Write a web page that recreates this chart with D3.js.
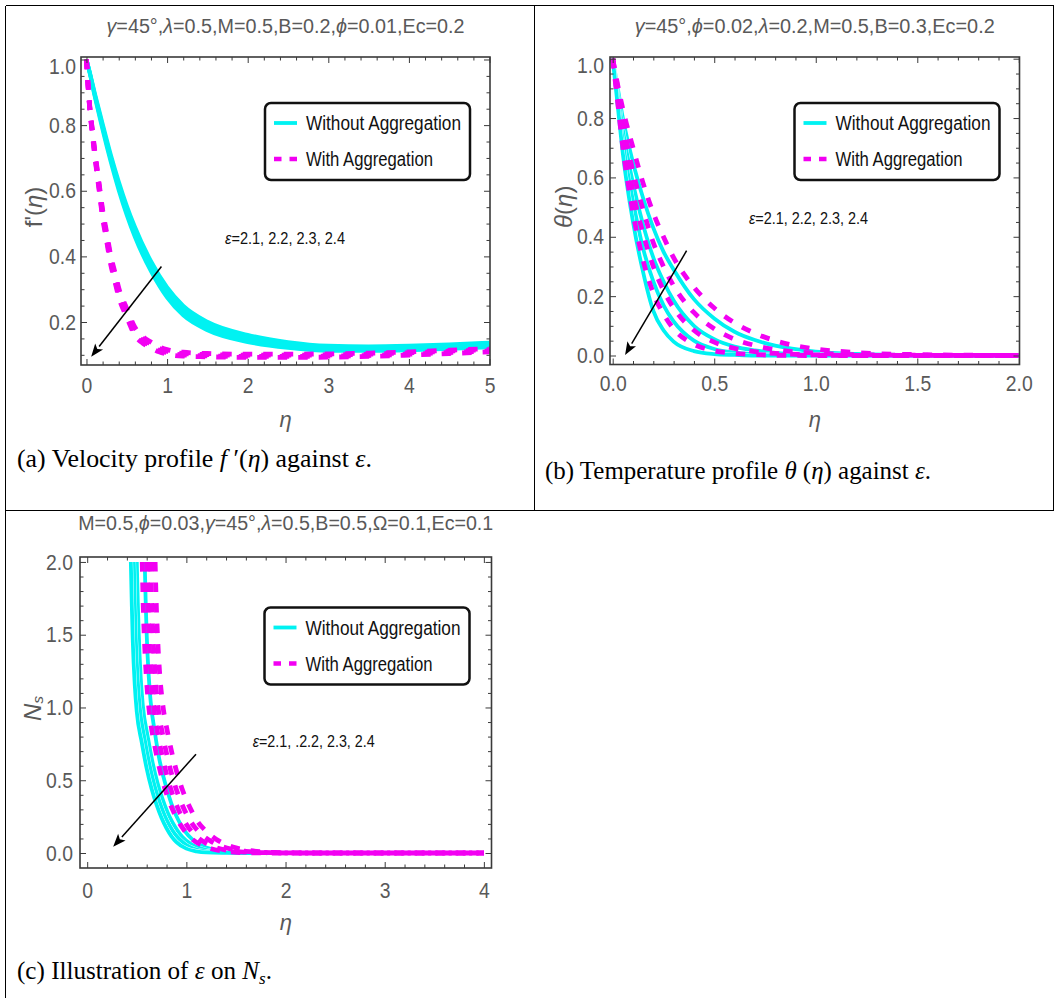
<!DOCTYPE html>
<html><head><meta charset="utf-8">
<script src="https://cdn.jsdelivr.net/npm/d3@7"></script>
<style>
body{margin:0;background:#fff;}
svg{display:block;}
</style></head><body>
<svg id="fig" width="1055" height="998"></svg>
<script>
// ---------------- data ----------------
const epsilons = [2.1, 2.2, 2.3, 2.4];
const legendLabels = ["Without Aggregation", "With Aggregation"];

// (a) velocity profile f'(η), one row per ε
const etaVel = [0, 0.05, 0.1, 0.15, 0.2, 0.3, 0.4, 0.5, 0.6, 0.8, 1.0, 1.2, 1.5, 2.0, 2.5, 3.0, 3.5, 4.0, 4.5, 5.0];
const velWithout = [
  [1.0, 0.953, 0.901, 0.853, 0.805, 0.712, 0.629, 0.555, 0.491, 0.386, 0.306, 0.25, 0.201, 0.161, 0.139, 0.128, 0.126, 0.128, 0.132, 0.137],
  [1.0, 0.951, 0.897, 0.848, 0.798, 0.704, 0.62, 0.545, 0.48, 0.375, 0.295, 0.24, 0.192, 0.154, 0.133, 0.123, 0.121, 0.123, 0.127, 0.132],
  [1.0, 0.949, 0.893, 0.842, 0.792, 0.696, 0.61, 0.535, 0.47, 0.365, 0.285, 0.23, 0.184, 0.146, 0.127, 0.117, 0.117, 0.119, 0.123, 0.128],
  [1.0, 0.947, 0.889, 0.837, 0.785, 0.688, 0.601, 0.525, 0.459, 0.354, 0.274, 0.22, 0.175, 0.139, 0.121, 0.112, 0.112, 0.114, 0.118, 0.123]
];
const etaVelAgg = [0, 0.02, 0.04, 0.07, 0.1, 0.15, 0.2, 0.25, 0.3, 0.35, 0.4, 0.5, 0.6, 0.7, 0.8, 0.9, 1.0, 1.2, 1.5, 2.0, 2.5, 3.0, 3.5, 4.0, 4.5, 5.0];
const velWith = [
  [1.0, 0.922, 0.859, 0.791, 0.728, 0.635, 0.542, 0.473, 0.404, 0.354, 0.304, 0.241, 0.184, 0.155, 0.139, 0.125, 0.116, 0.108, 0.104, 0.102, 0.102, 0.103, 0.105, 0.109, 0.114, 0.119],
  [1.0, 0.921, 0.856, 0.787, 0.723, 0.628, 0.534, 0.464, 0.395, 0.345, 0.295, 0.232, 0.176, 0.148, 0.133, 0.12, 0.111, 0.104, 0.101, 0.099, 0.099, 0.1, 0.102, 0.106, 0.111, 0.116],
  [1.0, 0.919, 0.854, 0.783, 0.717, 0.622, 0.526, 0.456, 0.385, 0.335, 0.285, 0.224, 0.168, 0.142, 0.127, 0.114, 0.107, 0.1, 0.097, 0.095, 0.095, 0.096, 0.098, 0.102, 0.107, 0.112],
  [1.0, 0.918, 0.851, 0.779, 0.712, 0.615, 0.518, 0.447, 0.376, 0.326, 0.276, 0.215, 0.16, 0.135, 0.121, 0.109, 0.102, 0.096, 0.094, 0.092, 0.092, 0.093, 0.095, 0.099, 0.104, 0.109]
];

// (b) temperature profile θ(η), one row per ε
const etaTemp = [0, 0.025, 0.05, 0.1, 0.15, 0.2, 0.25, 0.3, 0.4, 0.5, 0.6, 0.7, 0.8, 1.0, 1.2, 1.5, 2.0];
const tempWithout = [
  [1, 0.9, 0.8, 0.65, 0.53, 0.43, 0.35, 0.29, 0.19, 0.125, 0.08, 0.052, 0.033, 0.013, 0.005, 0.001, 0],
  [1, 0.88, 0.76, 0.58, 0.44, 0.33, 0.25, 0.185, 0.1, 0.055, 0.03, 0.017, 0.009, 0.003, 0.001, 0, 0],
  [1, 0.86, 0.72, 0.52, 0.36, 0.25, 0.17, 0.115, 0.05, 0.022, 0.01, 0.005, 0.002, 0, 0, 0, 0],
  [1, 0.84, 0.68, 0.45, 0.28, 0.15, 0.085, 0.047, 0.015, 0.005, 0.002, 0, 0, 0, 0, 0, 0]
];
const tempWith = [
  [1, 0.91, 0.83, 0.7, 0.58, 0.48, 0.4, 0.33, 0.23, 0.16, 0.11, 0.075, 0.05, 0.022, 0.01, 0.003, 0],
  [1, 0.9, 0.79, 0.62, 0.49, 0.38, 0.3, 0.235, 0.145, 0.09, 0.055, 0.034, 0.02, 0.008, 0.003, 0.001, 0],
  [1, 0.87, 0.75, 0.55, 0.41, 0.3, 0.22, 0.16, 0.085, 0.045, 0.024, 0.013, 0.007, 0.002, 0, 0, 0],
  [1, 0.85, 0.7, 0.48, 0.32, 0.21, 0.14, 0.09, 0.038, 0.016, 0.007, 0.003, 0.001, 0, 0, 0, 0]
];

// (c) entropy generation Ns, [η, Ns] pairs per ε (curves enter the frame at Ns = 2)
const nsWithout = [
  [[0.58,2.0],[0.59,1.72],[0.6,1.5],[0.62,1.22],[0.64,1.04],[0.68,0.84],[0.72,0.67],[0.77,0.52],[0.82,0.4],[0.87,0.3],[0.92,0.225],[0.97,0.165],[1.02,0.12],[1.1,0.072],[1.2,0.037],[1.3,0.018],[1.4,0.008],[1.6,0.002],[1.9,0],[4.0,0]],
  [[0.5,2.0],[0.51,1.72],[0.52,1.5],[0.54,1.2],[0.56,1.02],[0.61,0.8],[0.66,0.62],[0.71,0.48],[0.76,0.37],[0.81,0.28],[0.86,0.21],[0.91,0.155],[0.96,0.11],[1.05,0.06],[1.15,0.03],[1.25,0.014],[1.35,0.006],[1.5,0.002],[1.8,0],[4.0,0]],
  [[0.47,2.0],[0.48,1.7],[0.49,1.47],[0.51,1.18],[0.53,1.0],[0.58,0.78],[0.63,0.6],[0.68,0.46],[0.73,0.35],[0.78,0.26],[0.83,0.19],[0.88,0.135],[0.93,0.095],[1.0,0.055],[1.1,0.024],[1.2,0.01],[1.3,0.004],[1.5,0.001],[1.7,0],[4.0,0]],
  [[0.44,2.0],[0.45,1.7],[0.46,1.45],[0.48,1.15],[0.5,0.97],[0.55,0.76],[0.6,0.58],[0.65,0.44],[0.7,0.33],[0.75,0.24],[0.8,0.17],[0.85,0.115],[0.9,0.075],[1.0,0.03],[1.1,0.012],[1.2,0.004],[1.4,0.001],[1.6,0],[4.0,0]]
];
const nsWith = [
  [[0.685,2.0],[0.695,1.74],[0.71,1.48],[0.73,1.24],[0.76,1.03],[0.81,0.83],[0.86,0.67],[0.91,0.54],[0.96,0.435],[1.01,0.35],[1.06,0.28],[1.11,0.22],[1.2,0.15],[1.3,0.095],[1.4,0.058],[1.5,0.035],[1.65,0.016],[1.9,0.004],[2.3,0],[4.0,0]],
  [[0.64,2.0],[0.65,1.73],[0.665,1.47],[0.685,1.22],[0.715,1.0],[0.765,0.8],[0.815,0.64],[0.865,0.51],[0.915,0.405],[0.965,0.32],[1.015,0.25],[1.065,0.195],[1.15,0.13],[1.25,0.08],[1.35,0.047],[1.45,0.027],[1.6,0.012],[1.85,0.003],[2.2,0],[4.0,0]],
  [[0.6,2.0],[0.61,1.72],[0.625,1.45],[0.645,1.2],[0.675,0.98],[0.725,0.77],[0.775,0.61],[0.825,0.48],[0.875,0.375],[0.925,0.29],[0.975,0.225],[1.025,0.172],[1.1,0.115],[1.2,0.066],[1.3,0.037],[1.4,0.02],[1.55,0.008],[1.8,0.002],[2.1,0],[4.0,0]],
  [[0.555,2.0],[0.565,1.7],[0.58,1.42],[0.6,1.17],[0.63,0.95],[0.68,0.74],[0.73,0.58],[0.78,0.45],[0.83,0.35],[0.88,0.27],[0.93,0.205],[0.98,0.155],[1.05,0.1],[1.15,0.055],[1.25,0.029],[1.35,0.015],[1.5,0.005],[1.7,0.001],[2.0,0],[4.0,0]]
];

// tick values
const ticksVelX = [0, 1, 2, 3, 4, 5];
const ticksVelY = [0.2, 0.4, 0.6, 0.8, 1.0];
const ticksTempX = [0, 0.5, 1.0, 1.5, 2.0];
const ticksTempY = [0, 0.2, 0.4, 0.6, 0.8, 1.0];
const ticksNsX = [0, 1, 2, 3, 4];
const ticksNsY = [0, 0.5, 1.0, 1.5, 2.0];

// arrow annotations (start → end, data units)
const arrowVel = [[0.93, 0.369], [0.058, 0.094]];
const arrowTemp = [[0.364, 0.353], [0.061, 0.002]];
const arrowNs = [[1.097, 0.679], [0.262, 0.043]];

// ---------------- styling ----------------
const CYAN = "#00f2f2";
const MAGENTA = "#f200f2";
const SANS = "'Liberation Sans', Arial, sans-serif";
const SERIF = "'Liberation Serif', 'Times New Roman', serif";
const GREY = "#595959";
const FRAME = "#3a3a3a";
const LABEL_SQUEEZE = 0.88;

const fig = d3.select("#fig");

// table rules around the three sub-figures
const rules = fig.append("g").attr("stroke", "#000").attr("stroke-width", 1).attr("shape-rendering", "crispEdges");
[[5.5, 5.5, 1053.5, 5.5], [5.5, 5.5, 5.5, 998], [1053.5, 5.5, 1053.5, 510.5],
 [534.5, 5.5, 534.5, 510.5], [5.5, 510.5, 1053.5, 510.5]].forEach(r =>
  rules.append("line").attr("x1", r[0]).attr("y1", r[1]).attr("x2", r[2]).attr("y2", r[3]));

function minorTicks(lo, hi, step, major) {
  return d3.range(lo, hi + step / 2, step).map(v => +v.toFixed(4))
    .filter(v => !major.some(m => Math.abs(m - v) < 1e-6));
}

function addAxis(g, axisGen, scale, values, size, pos, fmt, pad) {
  const ax = axisGen(scale).tickValues(values).tickSizeInner(-size).tickSizeOuter(0)
    .tickPadding(pad || 0).tickFormat(fmt || (() => ""));
  const a = g.append("g").attr("transform", pos).call(ax);
  a.select(".domain").remove();
  a.attr("font-family", null).attr("font-size", null);
  a.selectAll("line").attr("stroke", FRAME).attr("stroke-width", 1);
  a.selectAll("text").attr("fill", GREY).attr("font-family", SANS).attr("font-size", 22)
    .each(function () {
      const t = d3.select(this);
      const tx = +t.attr("x") || 0;
      t.attr("x", 0).attr("transform", `translate(${tx},0) scale(${LABEL_SQUEEZE},1)`);
    });
  return a;
}

function drawPanel(cfg) {
  const f = cfg.frame;
  const x = d3.scaleLinear().domain(cfg.xDomain).range([f.l, f.r]);
  const y = d3.scaleLinear().domain(cfg.yDomain).range([f.b, f.t]);
  const g = fig.append("g");
  const clipId = "clip-" + cfg.id;
  g.append("clipPath").attr("id", clipId).append("rect")
    .attr("x", f.l).attr("y", f.t).attr("width", f.r - f.l).attr("height", f.b - f.t);

  // title
  const title = g.append("text").attr("x", (f.l + f.r) / 2).attr("y", cfg.titleY)
    .attr("text-anchor", "middle").attr("font-family", SANS).attr("font-size", 20).attr("fill", GREY)
    .attr("textLength", cfg.titleLen).attr("lengthAdjust", "spacingAndGlyphs");
  cfg.title.forEach(part => title.append("tspan").text(part[0]).attr("font-style", part[1] ? "italic" : null));

  // curves
  const line = d3.line().x(d => x(d[0])).y(d => y(d[1])).curve(d3.curveMonotoneX);
  const cg = g.append("g").attr("clip-path", `url(#${clipId})`).attr("fill", "none");
  cfg.without.forEach(pts => {
    if (cfg.edge) cg.append("path").attr("d", line(pts)).attr("stroke", "#fff").attr("stroke-width", cfg.edge);
    cg.append("path").attr("d", line(pts)).attr("stroke", CYAN).attr("stroke-width", 3.8);
  });
  cfg.with.forEach(pts => {
    cg.append("path").attr("d", line(pts)).attr("stroke", MAGENTA).attr("stroke-width", 4.8)
      .attr("stroke-dasharray", "9.5,11");
  });

  // ticks on all four sides
  const xMinor = minorTicks(cfg.xMinor[0], cfg.xMinor[1], cfg.xMinor[2], cfg.xMajor);
  const yMinor = minorTicks(cfg.yMinor[0], cfg.yMinor[1], cfg.yMinor[2], cfg.yMajor);
  addAxis(g, d3.axisBottom, x, cfg.xMajor, 6, `translate(0,${f.b})`, cfg.xFmt, cfg.xPad);
  addAxis(g, d3.axisBottom, x, xMinor, 3.5, `translate(0,${f.b})`);
  addAxis(g, d3.axisTop, x, cfg.xMajor, 6, `translate(0,${f.t})`);
  addAxis(g, d3.axisTop, x, xMinor, 3.5, `translate(0,${f.t})`);
  const left = addAxis(g, d3.axisLeft, y, cfg.yMajor, 6, `translate(${f.l},0)`, cfg.yFmt, cfg.yPad);
  addAxis(g, d3.axisLeft, y, yMinor, 3.5, `translate(${f.l},0)`);
  addAxis(g, d3.axisRight, y, cfg.yMajor, 6, `translate(${f.r},0)`);
  addAxis(g, d3.axisRight, y, yMinor, 3.5, `translate(${f.r},0)`);
  // the top label sits a little lower, clear of the title
  if (cfg.topLabelDrop) {
    left.selectAll(".tick").filter(d => d === d3.max(cfg.yMajor)).select("text")
      .attr("transform", `translate(${-cfg.yPad},${cfg.topLabelDrop}) scale(${LABEL_SQUEEZE},1)`);
  }

  // frame
  g.append("rect").attr("x", f.l).attr("y", f.t).attr("width", f.r - f.l).attr("height", f.b - f.t)
    .attr("fill", "none").attr("stroke", FRAME).attr("stroke-width", 1.6);

  // axis labels
  g.append("text").attr("x", (f.l + f.r) / 2).attr("y", f.b + 62).attr("text-anchor", "middle")
    .attr("font-family", SANS).attr("font-size", 22).attr("font-style", "italic").attr("fill", GREY).text("η");
  const yl = g.append("text").attr("transform", `translate(${cfg.yLabelX},${(f.t + f.b) / 2 - 4}) rotate(-90)`)
    .attr("text-anchor", "middle").attr("dominant-baseline", "central")
    .attr("font-family", SANS).attr("font-size", 24).attr("fill", GREY);
  cfg.yLabel(yl);

  // legend
  const lg = g.append("g").attr("transform", `translate(${f.l + cfg.legend[0]},${f.t + cfg.legend[1]})`);
  lg.append("rect").attr("width", 205).attr("height", 77).attr("rx", 6)
    .attr("fill", "#fff").attr("stroke", "#111").attr("stroke-width", 2.5);
  lg.append("line").attr("x1", 9).attr("x2", 32).attr("y1", 20).attr("y2", 20)
    .attr("stroke", CYAN).attr("stroke-width", 3.8);
  lg.append("line").attr("x1", 9).attr("x2", 32).attr("y1", 56).attr("y2", 56)
    .attr("stroke", MAGENTA).attr("stroke-width", 4.6).attr("stroke-dasharray", "7.5,8");
  legendLabels.forEach((t, i) => lg.append("text").attr("x", 41).attr("y", i ? 56 : 20)
    .attr("dominant-baseline", "central").attr("font-family", SANS).attr("font-size", 19.5)
    .attr("fill", "#111").attr("textLength", i ? 127 : 155).attr("lengthAdjust", "spacingAndGlyphs").text(t));

  // ε annotation and arrow
  const note = g.append("text").attr("x", f.l + cfg.note[0]).attr("y", f.t + cfg.note[1])
    .attr("font-family", SANS).attr("font-size", 16.5).attr("fill", "#111")
    .attr("textLength", cfg.note[2]).attr("lengthAdjust", "spacingAndGlyphs");
  note.append("tspan").attr("font-style", "italic").text("ε");
  note.append("tspan").text(cfg.noteText);

  const [p0, p1] = cfg.arrow.map(d => [x(d[0]), y(d[1])]);
  const ang = Math.atan2(p1[1] - p0[1], p1[0] - p0[0]);
  const headLen = 13, headW = 5;
  const base = [p1[0] - headLen * Math.cos(ang), p1[1] - headLen * Math.sin(ang)];
  g.append("line").attr("x1", p0[0]).attr("y1", p0[1]).attr("x2", base[0]).attr("y2", base[1])
    .attr("stroke", "#000").attr("stroke-width", 1.5);
  g.append("path").attr("fill", "#000").attr("d",
    `M${p1[0]},${p1[1]}L${base[0] + headW * Math.sin(ang)},${base[1] - headW * Math.cos(ang)}` +
    `L${base[0] + 3 * Math.cos(ang)},${base[1] + 3 * Math.sin(ang)}` +
    `L${base[0] - headW * Math.sin(ang)},${base[1] + headW * Math.cos(ang)}Z`);

  // caption
  const cap = fig.append("text").attr("x", cfg.caption.x).attr("y", cfg.caption.y)
    .attr("font-family", SERIF).attr("font-size", 25).attr("fill", "#000")
    .attr("textLength", cfg.caption.len).attr("lengthAdjust", "spacingAndGlyphs");
  cfg.caption.parts.forEach(p => {
    const t = cap.append("tspan").text(p[0]);
    if (p[1] === "i") t.attr("font-style", "italic");
    if (p[1] === "sub") t.attr("font-style", "italic").attr("font-size", 17).attr("dy", 5);
    if (p[1] === "up") t.attr("dy", -5);
  });
}

const zip = (eta, rows) => rows.map(r => eta.map((e, i) => [e, r[i]]));

drawPanel({
  id: "vel",
  frame: {l: 81, r: 490, t: 57, b: 365},
  xDomain: [-0.068, 5.006], yDomain: [0.069, 1.0076],
  xMajor: ticksVelX, yMajor: ticksVelY, xMinor: [0, 5, 0.2], yMinor: [0.1, 1.0, 0.05],
  xFmt: d3.format("d"), yFmt: d3.format(".1f"), xPad: 12, yPad: 5, topLabelDrop: 7, edge: 0,
  title: [["γ", 1], ["=45°,", 0], ["λ", 1], ["=0.5,M=0.5,B=0.2,", 0], ["ϕ", 1], ["=0.01,Ec=0.2", 0]],
  titleY: 33, titleLen: 358,
  without: zip(etaVel, velWithout), with: zip(etaVelAgg, velWith),
  yLabelX: 33,
  yLabel: t => { t.append("tspan").text("f'("); t.append("tspan").attr("font-style", "italic").text("η"); t.append("tspan").text(")"); },
  legend: [184, 46], note: [144, 187, 120], noteText: "=2.1, 2.2, 2.3, 2.4",
  arrow: arrowVel,
  caption: {x: 17, y: 467, len: 355, parts: [["(a) Velocity profile "], ["f", "i"], [" ′("], ["η", "i"], [") against "], ["ε", "i"], ["."]]}
});

drawPanel({
  id: "temp",
  frame: {l: 610, r: 1019.5, t: 57, b: 364.5},
  xDomain: [-0.0133, 2.0034], yDomain: [-0.0303, 1.0057],
  xMajor: ticksTempX, yMajor: ticksTempY, xMinor: [0, 2, 0.1], yMinor: [0, 1.0, 0.05],
  xFmt: d3.format(".1f"), yFmt: d3.format(".1f"), xPad: 11, yPad: 6, topLabelDrop: 7, edge: 4.5,
  title: [["γ", 1], ["=45°,", 0], ["ϕ", 1], ["=0.02,", 0], ["λ", 1], ["=0.2,M=0.5,B=0.3,Ec=0.2", 0]],
  titleY: 33, titleLen: 360,
  without: zip(etaTemp, tempWithout), with: zip(etaTemp, tempWith),
  yLabelX: 563,
  yLabel: t => { t.append("tspan").attr("font-style", "italic").text("θ"); t.append("tspan").text("("); t.append("tspan").attr("font-style", "italic").text("η"); t.append("tspan").text(")"); },
  legend: [184.5, 46], note: [139, 166.5, 119], noteText: "=2.1, 2.2, 2.3, 2.4",
  arrow: arrowTemp,
  caption: {x: 545, y: 479, len: 386, parts: [["(b) Temperature profile "], ["θ", "i"], [" ("], ["η", "i"], [") against "], ["ε", "i"], ["."]]}
});

drawPanel({
  id: "ns",
  frame: {l: 80, r: 491.5, t: 557, b: 868},
  xDomain: [-0.0726, 4.077], yDomain: [-0.103, 2.034],
  xMajor: ticksNsX, yMajor: ticksNsY, xMinor: [0, 4, 0.2], yMinor: [0, 2.0, 0.1],
  xFmt: d3.format("d"), yFmt: d3.format(".1f"), xPad: 14, yPad: 7, topLabelDrop: 1, edge: 4.5,
  title: [["M=0.5,", 0], ["ϕ", 1], ["=0.03,", 0], ["γ", 1], ["=45°,", 0], ["λ", 1], ["=0.5,B=0.5,Ω=0.1,Ec=0.1", 0]],
  titleY: 530, titleLen: 415,
  without: nsWithout, with: nsWith,
  yLabelX: 32,
  yLabel: t => { t.append("tspan").attr("font-style", "italic").text("N"); t.append("tspan").attr("font-style", "italic").attr("font-size", 15).attr("dy", 5).text("s"); },
  legend: [184.5, 50.5], note: [172.7, 189.5, 122], noteText: "=2.1, .2.2, 2.3, 2.4",
  arrow: arrowNs,
  caption: {x: 17, y: 979, len: 255, parts: [["(c) Illustration of "], ["ε", "i"], [" on "], ["N", "i"], ["s", "sub"], [".", "up"]]}
});
</script>
</body></html>
